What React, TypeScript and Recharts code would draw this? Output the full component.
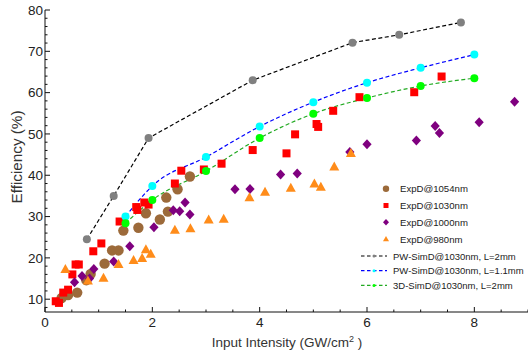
import React from 'react';
import { ComposedChart, Scatter, Line, XAxis, YAxis } from 'recharts';

// measured efficiency (%) vs input intensity (GW/cm^2)
const exp1054 = [
  { x: 0.31, y: 10.3 }, { x: 0.43, y: 11.0 }, { x: 0.6, y: 11.6 }, { x: 0.77, y: 14.6 },
  { x: 0.85, y: 16.1 }, { x: 1.11, y: 18.6 }, { x: 1.25, y: 21.8 }, { x: 1.37, y: 21.8 },
  { x: 1.46, y: 26.6 }, { x: 1.74, y: 27.3 }, { x: 1.88, y: 30.8 }, { x: 2.14, y: 29.3 },
  { x: 2.26, y: 34.6 }, { x: 2.29, y: 31.2 }, { x: 2.47, y: 36.6 }, { x: 2.7, y: 39.7 },
];

const exp1030 = [
  { x: 0.2, y: 9.5 }, { x: 0.26, y: 9.1 }, { x: 0.34, y: 11.6 }, { x: 0.43, y: 12.3 },
  { x: 0.51, y: 16.0 }, { x: 0.57, y: 18.4 }, { x: 0.63, y: 18.4 }, { x: 0.9, y: 21.6 },
  { x: 1.05, y: 23.5 }, { x: 1.39, y: 28.8 }, { x: 1.7, y: 32.3 }, { x: 1.72, y: 31.6 },
  { x: 1.85, y: 33.4 }, { x: 1.93, y: 32.9 }, { x: 2.42, y: 38.0 }, { x: 2.54, y: 41.1 },
  { x: 2.96, y: 41.4 }, { x: 3.29, y: 42.8 }, { x: 3.87, y: 46.1 }, { x: 4.5, y: 45.3 },
  { x: 4.66, y: 49.9 }, { x: 5.06, y: 52.4 }, { x: 5.09, y: 51.7 }, { x: 5.37, y: 55.6 },
  { x: 5.86, y: 58.9 }, { x: 6.88, y: 60.1 }, { x: 7.39, y: 63.9 },
];

const exp1000 = [
  { x: 0.55, y: 14.1 }, { x: 0.69, y: 15.6 }, { x: 0.83, y: 15.0 }, { x: 0.91, y: 17.3 },
  { x: 1.28, y: 19.1 }, { x: 1.58, y: 22.8 }, { x: 2.03, y: 27.4 }, { x: 2.39, y: 31.5 },
  { x: 2.51, y: 31.3 }, { x: 2.61, y: 33.4 }, { x: 2.7, y: 30.5 }, { x: 3.54, y: 36.6 },
  { x: 3.82, y: 36.7 }, { x: 4.39, y: 40.2 }, { x: 4.7, y: 40.4 }, { x: 5.68, y: 45.6 },
  { x: 6.0, y: 47.5 }, { x: 6.92, y: 48.4 }, { x: 7.27, y: 51.9 }, { x: 7.35, y: 50.2 },
  { x: 8.09, y: 52.8 }, { x: 8.75, y: 57.8 },
];

const exp980 = [
  { x: 0.38, y: 17.2 }, { x: 0.8, y: 14.4 }, { x: 1.09, y: 15.1 }, { x: 1.37, y: 18.4 },
  { x: 1.65, y: 19.4 }, { x: 1.81, y: 19.9 }, { x: 1.88, y: 22.0 }, { x: 1.97, y: 20.9 },
  { x: 2.42, y: 26.7 }, { x: 2.71, y: 27.1 }, { x: 3.05, y: 29.2 }, { x: 3.33, y: 29.4 },
  { x: 3.81, y: 34.6 }, { x: 4.1, y: 35.9 }, { x: 4.58, y: 36.9 }, { x: 5.02, y: 37.9 },
  { x: 5.14, y: 37.1 }, { x: 5.39, y: 42.0 }, { x: 5.7, y: 45.3 },
];

// simulations
const pwSim2mm = [
  { x: 0.78, y: 24.5 }, { x: 1.28, y: 35.0 }, { x: 1.93, y: 49.0 }, { x: 3.87, y: 63.0 },
  { x: 5.73, y: 72.1 }, { x: 6.6, y: 74.0 }, { x: 7.75, y: 77.0 },
];

const pwSim11mm = [
  { x: 1.5, y: 30.0 }, { x: 2, y: 37.4 }, { x: 3, y: 44.4 }, { x: 4, y: 51.8 },
  { x: 5, y: 57.7 }, { x: 6, y: 62.4 }, { x: 7, y: 66.0 }, { x: 8, y: 69.2 },
];

const sim3d2mm = [
  { x: 1.5, y: 28.4 }, { x: 2, y: 34.0 }, { x: 3, y: 41.0 }, { x: 4, y: 49.0 },
  { x: 5, y: 54.9 }, { x: 6, y: 58.7 }, { x: 7, y: 61.6 }, { x: 8, y: 63.5 },
];

const xTicks = [0, 0.5, 1, 1.5, 2, 2.5, 3, 3.5, 4, 4.5, 5, 5.5, 6, 6.5, 7, 7.5, 8, 8.5, 9];
const xLabels = [0, 2, 4, 6, 8];
const yTicks = [8, 10, 12, 14, 16, 18, 20, 22, 24, 26, 28, 30, 32, 34, 36, 38, 40, 42, 44, 46, 48, 50, 52, 54, 56, 58, 60, 62, 64, 66, 68, 70, 72, 74, 76, 78, 80];
const yLabels = [10, 20, 30, 40, 50, 60, 70, 80];

const FONT = '"Liberation Sans", Arial, sans-serif';
const BROWN = '#9c6a3a';
const RED = '#ff0000';
const PURPLE = '#7f007f';
const ORANGE = '#ff8c1a';

const circleShape = (color: string, r: number) => (p: any) => (
  <circle cx={p.cx} cy={p.cy} r={r} fill={color} />
);
const squareShape = (color: string, s: number) => (p: any) => (
  <rect x={p.cx - s / 2} y={p.cy - s / 2} width={s} height={s} fill={color} />
);
const diamondShape = (color: string, w: number, h: number) => (p: any) => (
  <polygon
    points={`${p.cx},${p.cy - h} ${p.cx + w},${p.cy} ${p.cx},${p.cy + h} ${p.cx - w},${p.cy}`}
    fill={color}
  />
);
const triangleShape = (color: string, w: number, h: number) => (p: any) => (
  <polygon
    points={`${p.cx},${p.cy - h * 0.6} ${p.cx + w},${p.cy + h * 0.4} ${p.cx - w},${p.cy + h * 0.4}`}
    fill={color}
  />
);
const lineDot = (color: string) => (p: any) => (
  <circle key={`d-${p.index}`} cx={p.cx} cy={p.cy} r={4} fill={color} />
);

const BottomTick = (p: any) => {
  const v = p.payload.value;
  const major = xLabels.includes(v);
  return (
    <g>
      <line x1={p.x} x2={p.x} y1={p.y} y2={p.y - (major ? 5 : 2.5)} stroke="#111" />
      {major && (
        <text x={p.x} y={p.y + 15} textAnchor="middle" fontSize={13.5} fontFamily={FONT} fill="#222">
          {v}
        </text>
      )}
    </g>
  );
};

const TopTick = (p: any) => {
  const major = xLabels.includes(p.payload.value);
  return <line x1={p.x} x2={p.x} y1={p.y} y2={p.y + (major ? 5 : 2.5)} stroke="#111" />;
};

const LeftTick = (p: any) => {
  const v = p.payload.value;
  const major = yLabels.includes(v);
  return (
    <g>
      <line x1={p.x} x2={p.x + (major ? 5 : 2.5)} y1={p.y} y2={p.y} stroke="#111" />
      {major && (
        <text x={p.x - 2} y={p.y + 4.8} textAnchor="end" fontSize={13.5} fontFamily={FONT} fill="#222">
          {v}
        </text>
      )}
    </g>
  );
};

const legendMarkers = [
  { name: 'ExpD@1054nm', kind: 'circle', color: BROWN },
  { name: 'ExpD@1030nm', kind: 'square', color: RED },
  { name: 'ExpD@1000nm', kind: 'diamond', color: PURPLE },
  { name: 'ExpD@980nm', kind: 'triangle', color: ORANGE },
];
const legendLines = [
  { name: 'PW-SimD@1030nm, L=2mm', line: '#000000', dot: '#808080' },
  { name: 'PW-SimD@1030nm, L=1.1mm', line: '#0000ff', dot: '#00ffff' },
  { name: '3D-SimD@1030nm, L=2mm', line: '#22aa22', dot: '#00ff00' },
];

const LegendOverlay = () => {
  const mx = 386;
  return (
    <svg width={528} height={354} style={{ position: 'absolute', left: 0, top: 0, pointerEvents: 'none' }}>
      {legendMarkers.map((m, i) => {
        const y = 188.7 + i * 16.8;
        let mark;
        if (m.kind === 'circle') mark = <circle cx={mx} cy={y} r={3.2} fill={m.color} />;
        else if (m.kind === 'square') mark = <rect x={mx - 2.5} y={y - 2.5} width={5} height={5} fill={m.color} />;
        else if (m.kind === 'diamond')
          mark = <polygon points={`${mx},${y - 3.3} ${mx + 3},${y} ${mx},${y + 3.3} ${mx - 3},${y}`} fill={m.color} />;
        else
          mark = <polygon points={`${mx},${y - 3.2} ${mx + 3},${y + 2.2} ${mx - 3},${y + 2.2}`} fill={m.color} />;
        return (
          <g key={m.name}>
            {mark}
            <text x={400} y={y + 3.5} fontSize={9.6} fontFamily={FONT} fill="#222">
              {m.name}
            </text>
          </g>
        );
      })}
      {legendLines.map((l, i) => {
        const y = 256 + i * 14.7;
        return (
          <g key={l.name}>
            <line x1={361} x2={387} y1={y} y2={y} stroke={l.line} strokeWidth={1.2} strokeDasharray="3.5 2.5" />
            <circle cx={374} cy={y} r={1.5} fill={l.dot} />
            <text x={393} y={y + 3.5} fontSize={9.5} fontFamily={FONT} fill="#222">
              {l.name}
            </text>
          </g>
        );
      })}
    </svg>
  );
};

export default function App() {
  return (
    <div style={{ position: 'absolute', left: 0, top: 0, width: 528, height: 354, background: '#fff' }}>
      <ComposedChart width={528} height={354} margin={{ top: 10, right: 0, bottom: 0, left: 0 }}>
        <XAxis
          dataKey="x"
          type="number"
          domain={[0, 9]}
          allowDataOverflow
          ticks={xTicks}
          interval={0}
          tickSize={0}
          tickMargin={0}
          tick={BottomTick}
          height={42}
          stroke="#111"
          label={{
            content: () => (
              <text x={287} y={346.5} textAnchor="middle" fontSize={13.5} fontFamily={FONT} fill="#333">
                Input Intensity (GW/cm
                <tspan fontSize={9} dy={-5}>2</tspan>
                <tspan dy={5}> )</tspan>
              </text>
            ),
          }}
        />
        <XAxis
          xAxisId="top"
          orientation="top"
          dataKey="x"
          type="number"
          domain={[0, 9]}
          allowDataOverflow
          ticks={xTicks}
          interval={0}
          tickSize={0}
          tickMargin={0}
          tick={TopTick}
          height={0}
          stroke="#111"
        />
        <YAxis
          type="number"
          domain={[6.9, 80]}
          allowDataOverflow
          ticks={yTicks}
          interval={0}
          tickSize={0}
          tickMargin={0}
          tick={LeftTick}
          width={45}
          stroke="#111"
          label={{
            content: () => (
              <text
                x={16.5}
                y={157}
                transform="rotate(-90, 16.5, 157)"
                textAnchor="middle"
                dominantBaseline="central"
                fontSize={14}
                fontFamily={FONT}
                fill="#333"
                textLength={93}
                lengthAdjust="spacingAndGlyphs"
              >
                Efficiency (%)
              </text>
            ),
          }}
        />
        <Scatter data={exp1054} dataKey="y" fill={BROWN} shape={circleShape(BROWN, 5.2)} isAnimationActive={false} />
        <Scatter data={exp1030} dataKey="y" fill={RED} shape={squareShape(RED, 8)} isAnimationActive={false} />
        <Scatter data={exp1000} dataKey="y" fill={PURPLE} shape={diamondShape(PURPLE, 4.6, 5)} isAnimationActive={false} />
        <Scatter data={exp980} dataKey="y" fill={ORANGE} shape={triangleShape(ORANGE, 5, 9)} isAnimationActive={false} />
        <Line
          data={pwSim2mm}
          dataKey="y"
          type="linear"
          stroke="#000000"
          strokeWidth={1.2}
          strokeDasharray="4 2.5"
          dot={lineDot('#808080')}
          activeDot={false}
          isAnimationActive={false}
        />
        <Line
          data={pwSim11mm}
          dataKey="y"
          type="monotone"
          stroke="#0000ff"
          strokeWidth={1.2}
          strokeDasharray="4 2.5"
          dot={lineDot('#00ffff')}
          activeDot={false}
          isAnimationActive={false}
        />
        <Line
          data={sim3d2mm}
          dataKey="y"
          type="monotone"
          stroke="#22aa22"
          strokeWidth={1.2}
          strokeDasharray="4 2.5"
          dot={lineDot('#00ff00')}
          activeDot={false}
          isAnimationActive={false}
        />
      </ComposedChart>
      <LegendOverlay />
    </div>
  );
}
